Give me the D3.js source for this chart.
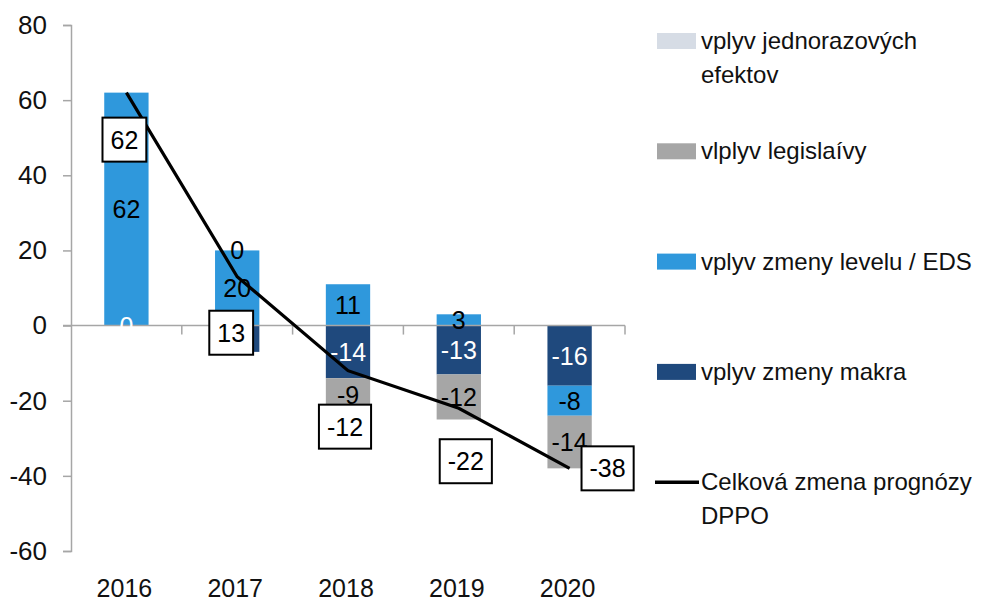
<!DOCTYPE html>
<meta charset="utf-8">
<script src="https://d3js.org/d3.v7.min.js"></script>
<style>
  body { margin: 0; background: #fff; }
  text { font-family: "Liberation Sans", Arial, sans-serif; }
</style>
<div id="main"></div>
<script>

var width = 988
var height = 602

// data
var years = ["2016", "2017", "2018", "2019", "2020"]
var makra = [0, -7, -14, -13, -16]
var level = [62, 20, 11, 3, -8]
var legis = [null, 0, -9, -12, -14]
var jednor = [null, null, null, null, null]
var total = [62, 13, -12, -22, -38]
var yTicks = [-60, -40, -20, 0, 20, 40, 60, 80]

// series in stacking order (makra sits next to zero)
var series = [
  { key: "makra", name: "vplyv zmeny makra", values: makra, color: "#1f497d", label: "#fff" },
  { key: "level", name: "vplyv zmeny levelu / EDS", values: level, color: "#2f98dc", label: "#000" },
  { key: "legis", name: "vlplyv legislaívy", values: legis, color: "#a6a6a6", label: "#000" },
  { key: "jednor", name: "vplyv jednorazových efektov", values: jednor, color: "#d6dce5", label: "#000" }
]

// label covered by the "13" box in the original, so not drawn
var hiddenLabels = ["2017-makra"]

// hand-placed offsets of the boxed total labels (px from the line point)
var boxDx = [-2, -6, -3, 7, 38]
var boxDy = [47, 56, 56, 53, 0]

var svg = d3.select("#main")
  .append("svg")
    .attr("width", width)
    .attr("height", height)

var x = d3.scaleBand().domain(years).range([71, 625]).padding(0)
var y = d3.scaleLinear().domain([-60, 80]).range([551, 25])
var barW = x.bandwidth() * 0.4

// excel-like stacking: zero and positives go up, negatives go down
var segs = []
years.forEach(function(yr, i) {
  var pos = 0, neg = 0
  series.forEach(function(s) {
    var v = s.values[i]
    if (v === null) return
    var y0, y1
    if (v >= 0) { y0 = pos; y1 = pos + v; pos = y1 }
    else { y0 = neg; y1 = neg + v; neg = y1 }
    segs.push({ year: yr, v: v, y0: y0, y1: y1, s: s })
  })
})

// y axis
var yAxis = svg.append("g").attr("transform", "translate(71,0)")
  .call(d3.axisLeft(y).tickValues(yTicks).tickSize(8).tickPadding(16).tickFormat(d => String(d)))
yAxis.select(".domain").attr("stroke", "#a6a6a6").attr("stroke-width", 1.5)
yAxis.selectAll(".tick line").attr("stroke", "#a6a6a6").attr("stroke-width", 1.5)
yAxis.selectAll(".tick text").attr("font-size", 26).attr("fill", "#111")
  .attr("font-family", "Liberation Sans, Arial, sans-serif")

// bars
svg.append("g").selectAll("rect")
  .data(segs.filter(d => d.v !== 0))
  .enter()
  .append("rect")
    .attr("x", d => x(d.year) + (x.bandwidth() - barW) / 2)
    .attr("width", barW)
    .attr("y", d => y(Math.max(d.y0, d.y1)))
    .attr("height", d => Math.abs(y(d.y0) - y(d.y1)))
    .attr("fill", d => d.s.color)

// x axis at zero, ticks between categories
var xAxis = svg.append("g").attr("transform", "translate(0," + y(0) + ")")
xAxis.append("line")
  .attr("x1", 63).attr("x2", x.range()[1])
  .attr("stroke", "#a6a6a6").attr("stroke-width", 1.5)
xAxis.selectAll(".sep")
  .data(years)
  .enter()
  .append("line")
    .attr("x1", d => x(d) + x.bandwidth()).attr("x2", d => x(d) + x.bandwidth())
    .attr("y1", 0).attr("y2", 9)
    .attr("stroke", "#a6a6a6").attr("stroke-width", 1.5)

svg.append("g").selectAll("text")
  .data(years)
  .enter()
  .append("text")
    .attr("x", d => x(d) + x.bandwidth() / 2 - 2)
    .attr("y", 597)
    .attr("text-anchor", "middle")
    .attr("font-size", 25)
    .attr("fill", "#111")
    .text(d => d)

// segment labels
svg.append("g").selectAll("text")
  .data(segs.filter(d => hiddenLabels.indexOf(d.year + "-" + d.s.key) < 0))
  .enter()
  .append("text")
    .attr("x", d => x(d.year) + x.bandwidth() / 2)
    .attr("y", d => y((d.y0 + d.y1) / 2))
    .attr("dy", "0.36em")
    .attr("text-anchor", "middle")
    .attr("font-size", 25)
    .attr("fill", d => d.s.label)
    .text(d => d.v)

// total line
var pts = years.map((yr, i) => [x(yr) + x.bandwidth() / 2, y(total[i])])
svg.append("path")
  .attr("d", d3.line()(pts))
  .attr("fill", "none")
  .attr("stroke", "#000")
  .attr("stroke-width", 3.2)

// boxed totals
var boxes = svg.append("g").selectAll("g")
  .data(total)
  .enter()
  .append("g")
    .attr("transform", (d, i) => "translate(" + (pts[i][0] + boxDx[i]) + "," + (pts[i][1] + boxDy[i]) + ")")
boxes.append("rect")
boxes.append("text")
  .attr("text-anchor", "middle")
  .attr("dy", "0.36em")
  .attr("font-size", 25)
  .attr("fill", "#000")
  .text(d => d)
boxes.each(function() {
  var g = d3.select(this)
  var w = g.select("text").node().getBBox().width + 16
  g.select("rect")
    .attr("x", -w / 2).attr("y", -22)
    .attr("width", w).attr("height", 44)
    .attr("fill", "#fff").attr("stroke", "#000").attr("stroke-width", 2)
})

// legend
var legend = [
  { lines: ["vplyv jednorazových", "efektov"], color: "#d6dce5", line: false },
  { lines: ["vlplyv legislaívy"], color: "#a6a6a6", line: false },
  { lines: ["vplyv zmeny levelu / EDS"], color: "#2f98dc", line: false },
  { lines: ["vplyv zmeny makra"], color: "#1f497d", line: false },
  { lines: ["Celková zmena prognózy", "DPPO"], color: "#000", line: true }
]
var lg = svg.append("g").selectAll("g")
  .data(legend)
  .enter()
  .append("g")
    .attr("transform", (d, i) => "translate(657," + (41 + i * 110.3) + ")")
lg.filter(d => !d.line).append("rect")
  .attr("x", 0).attr("y", -8).attr("width", 39).attr("height", 16)
  .attr("fill", d => d.color)
lg.filter(d => d.line).append("line")
  .attr("x1", -2).attr("x2", 42)
  .attr("stroke", "#000").attr("stroke-width", 3.5)
lg.append("text")
  .attr("x", 44)
  .attr("y", 8)
  .attr("font-size", 24)
  .attr("fill", "#111")
  .selectAll("tspan")
  .data(d => d.lines)
  .enter()
  .append("tspan")
    .attr("x", 44)
    .attr("dy", (d, i) => i === 0 ? 0 : 34)
    .text(d => d)

</script>
